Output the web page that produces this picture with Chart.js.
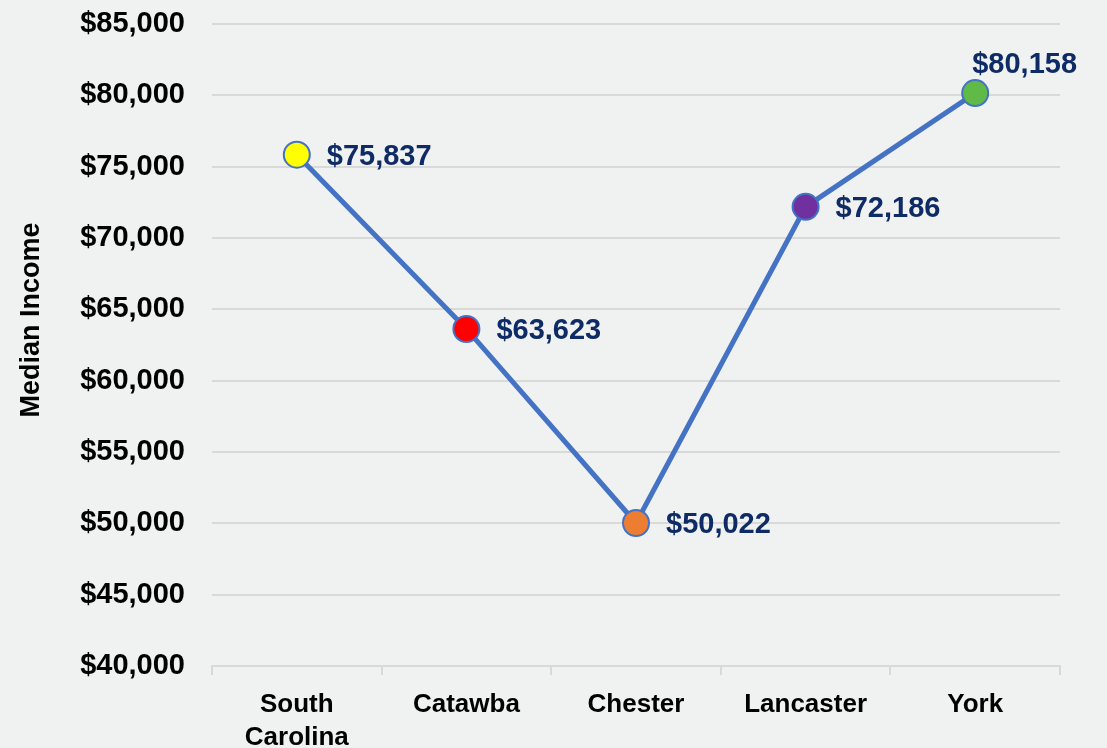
<!DOCTYPE html>
<html>
<head>
<meta charset="utf-8">
<script src="https://cdn.jsdelivr.net/npm/chart.js@4"></script>
<style>
  html, body { margin: 0; padding: 0; background: #f0f2f1; }
  #wrap { width: 1107px; height: 748px; position: relative; }
</style>
</head>
<body>
<div id="wrap"><canvas id="c" width="1107" height="748"></canvas></div>
<script>
const categories = [['South', 'Carolina'], 'Catawba', 'Chester', 'Lancaster', 'York'];
const medianIncome = [75837, 63623, 50022, 72186, 80158];
const pointColors = ['#ffff00', '#ff0000', '#ed7d31', '#7030a0', '#5fba47'];
const yTicks = [40000, 45000, 50000, 55000, 60000, 65000, 70000, 75000, 80000, 85000];
const labelAbove = [false, false, false, false, true];
const yTitle = 'Median Income';

const FONT = "'Liberation Sans', Arial, sans-serif";
const fmt = v => '$' + v.toLocaleString('en-US');

const dataLabels = {
  id: 'dataLabels',
  afterDatasetsDraw(chart) {
    const ctx = chart.ctx;
    const meta = chart.getDatasetMeta(0);
    ctx.save();
    ctx.font = 'bold 29px ' + FONT;
    ctx.fillStyle = '#0f2b66';
    ctx.textAlign = 'left';
    ctx.textBaseline = 'middle';
    meta.data.forEach((pt, i) => {
      const txt = fmt(medianIncome[i]);
      if (labelAbove[i]) {
        ctx.fillText(txt, pt.x - 3, pt.y - 28);
      } else {
        ctx.fillText(txt, pt.x + 30, pt.y + 2);
      }
    });
    // y-axis title
    ctx.font = 'bold 27px ' + FONT;
    ctx.fillStyle = '#000';
    ctx.textAlign = 'center';
    ctx.translate(32, 320);
    ctx.rotate(-Math.PI / 2);
    ctx.fillText(yTitle, 0, 0);
    ctx.restore();
  }
};

new Chart(document.getElementById('c'), {
  type: 'line',
  data: {
    labels: categories,
    datasets: [{
      data: medianIncome,
      borderColor: '#4472c4',
      borderWidth: 5,
      pointRadius: 13,
      pointHoverRadius: 13,
      pointBackgroundColor: pointColors,
      pointBorderColor: '#4472c4',
      pointBorderWidth: 2,
      tension: 0,
      fill: false
    }]
  },
  options: {
    responsive: false,
    animation: false,
    layout: { padding: { top: 24, right: 47, bottom: 0, left: 0 } },
    plugins: { legend: { display: false }, tooltip: { enabled: false } },
    scales: {
      x: {
        offset: true,
        grid: { offset: true, drawOnChartArea: false, color: '#d9d9d9', lineWidth: 2, tickLength: 9 },
        border: { display: true, color: '#d9d9d9', width: 2 },
        ticks: { color: '#000', font: { family: FONT, size: 26, weight: 'bold', lineHeight: 1.27 }, padding: 13, maxRotation: 0 },
        afterFit(s) { s.height = 82; s.paddingTop = 0; s.paddingBottom = 0; }
      },
      y: {
        min: 40000, max: 85000,
        afterBuildTicks(s) { s.ticks = yTicks.map(v => ({ value: v })); },
        grid: { color: '#d9d9d9', lineWidth: 2, tickLength: 0, drawTicks: false },
        border: { display: false },
        ticks: { color: '#000', font: { family: FONT, size: 29, weight: 'bold' }, padding: 27, callback: v => fmt(v) },
        afterFit(s) { s.width = 212; s.paddingTop = 0; s.paddingBottom = 0; }
      }
    }
  },
  plugins: [dataLabels]
});
</script>
</body>
</html>
